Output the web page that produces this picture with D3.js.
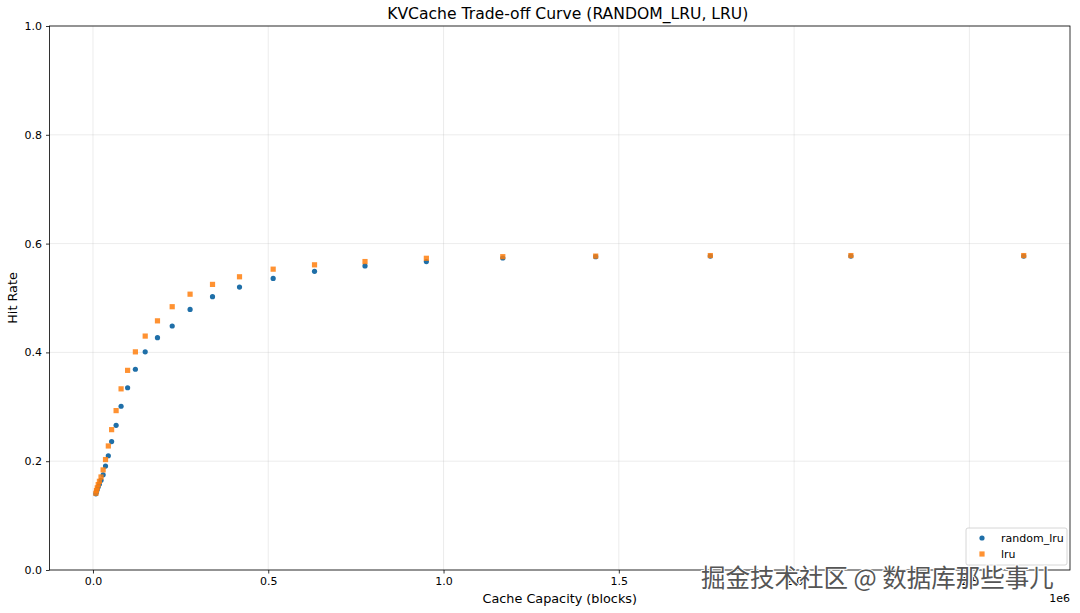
<!DOCTYPE html>
<meta charset="utf-8">
<script src="https://d3js.org/d3.v7.min.js"></script>
<style>
  body { margin: 0; background: #fff; }
  text { font-family: "DejaVu Sans", sans-serif; }
</style>
<div id="chart"></div>
<script>

// cache capacities (blocks)
var capacity = [8200, 10000, 12200, 15000, 18400, 23000, 29000, 35800, 43800, 53200,
  66000, 80200, 98800, 121000, 149000, 184000, 226000, 277000, 341000, 418000,
  514000, 632000, 776000, 951000, 1169000, 1434000, 1761000, 2162000, 2655000]

var randomLru = [0.140, 0.144, 0.148, 0.153, 0.158, 0.165, 0.175, 0.191, 0.210, 0.236,
  0.266, 0.301, 0.335, 0.369, 0.401, 0.427, 0.4485, 0.479, 0.5025, 0.520,
  0.536, 0.549, 0.559, 0.567, 0.5735, 0.576, 0.577, 0.577, 0.577]

var lru = [0.141, 0.146, 0.151, 0.157, 0.163, 0.171, 0.184, 0.203, 0.228, 0.258,
  0.293, 0.333, 0.367, 0.401, 0.430, 0.458, 0.484, 0.507, 0.525, 0.539,
  0.553, 0.561, 0.567, 0.573, 0.576, 0.577, 0.578, 0.578, 0.578]

var xTicks = [0, 500000, 1000000, 1500000, 2000000, 2500000]
var yTicks = [0, 0.2, 0.4, 0.6, 0.8, 1.0]

var W = 1080, H = 613
// plot box
var box = {left: 49.5, right: 1070, top: 26, bottom: 570}

var svg = d3.select("#chart").append("svg")
  .attr("width", W).attr("height", H)

var x = d3.scaleLinear().domain([-124000, 2787000]).range([box.left, box.right])
var y = d3.scaleLinear().domain([0, 1]).range([box.bottom, box.top])

// grid
svg.append("g").selectAll("line").data(xTicks).enter().append("line")
  .attr("x1", d => x(d)).attr("x2", d => x(d))
  .attr("y1", box.top).attr("y2", box.bottom)
  .attr("stroke", "#b0b0b0").attr("stroke-opacity", 0.3).attr("stroke-width", 0.8)
svg.append("g").selectAll("line").data(yTicks).enter().append("line")
  .attr("y1", d => y(d)).attr("y2", d => y(d))
  .attr("x1", box.left).attr("x2", box.right)
  .attr("stroke", "#b0b0b0").attr("stroke-opacity", 0.3).attr("stroke-width", 0.8)

// axes
var xAxis = svg.append("g")
  .attr("transform", "translate(0," + box.bottom + ")")
  .call(d3.axisBottom(x).tickValues(xTicks).tickSize(3.5).tickPadding(4)
    .tickFormat(d => (d / 1e6).toFixed(1)))
var yAxis = svg.append("g")
  .attr("transform", "translate(" + box.left + ",0)")
  .call(d3.axisLeft(y).tickValues(yTicks).tickSize(3.5).tickPadding(4)
    .tickFormat(d3.format(".1f")))
;[xAxis, yAxis].forEach(function(a) {
  a.select(".domain").remove()
  a.selectAll("text").attr("font-size", 11).attr("fill", "#000")
    .style("font-family", "DejaVu Sans, sans-serif")
  a.selectAll("line").attr("stroke", "#000").attr("stroke-width", 0.8)
})

// frame
svg.append("rect")
  .attr("x", box.left).attr("y", box.top)
  .attr("width", box.right - box.left).attr("height", box.bottom - box.top)
  .attr("fill", "none").attr("stroke", "#000").attr("stroke-width", 0.8)

var pts = capacity.map((c, i) => ({c: c, r: randomLru[i], l: lru[i]}))

// random_lru
svg.append("g").selectAll("circle").data(pts).enter().append("circle")
  .attr("cx", d => x(d.c)).attr("cy", d => y(d.r)).attr("r", 2.6)
  .attr("fill", "#1f6fa8")

// lru
svg.append("g").selectAll("rect").data(pts).enter().append("rect")
  .attr("x", d => x(d.c) - 2.6).attr("y", d => y(d.l) - 2.6)
  .attr("width", 5.2).attr("height", 5.2)
  .attr("fill", "#ff7f0e").attr("fill-opacity", 0.85)

// title and labels
svg.append("text").attr("x", (box.left + box.right) / 2 + 8).attr("y", 19)
  .attr("text-anchor", "middle").attr("font-size", 15.6)
  .text("KVCache Trade-off Curve (RANDOM_LRU, LRU)")
svg.append("text").attr("x", (box.left + box.right) / 2).attr("y", 603)
  .attr("text-anchor", "middle").attr("font-size", 12.8)
  .text("Cache Capacity (blocks)")
svg.append("text").attr("transform", "translate(17," + ((box.top + box.bottom) / 2) + ") rotate(-90)")
  .attr("text-anchor", "middle").attr("font-size", 12.8)
  .text("Hit Rate")
svg.append("text").attr("x", box.right).attr("y", 602)
  .attr("text-anchor", "end").attr("font-size", 11)
  .text("1e6")

// legend
var lg = svg.append("g").attr("transform", "translate(966,528)")
lg.append("rect").attr("width", 101).attr("height", 37).attr("rx", 2)
  .attr("fill", "#fff").attr("fill-opacity", 0.8)
  .attr("stroke", "#ccc").attr("stroke-width", 0.8)
lg.append("circle").attr("cx", 16).attr("cy", 10).attr("r", 2.6).attr("fill", "#1f6fa8")
lg.append("rect").attr("x", 13.4).attr("y", 23.4).attr("width", 5.2).attr("height", 5.2)
  .attr("fill", "#ff7f0e").attr("fill-opacity", 0.85)
lg.append("text").attr("x", 35).attr("y", 14).attr("font-size", 11).text("random_lru")
lg.append("text").attr("x", 35).attr("y", 30).attr("font-size", 11).text("lru")

// watermark
svg.append("text").attr("x", 701).attr("y", 587)
  .attr("font-size", 24.5).attr("fill", "#555")
  .attr("stroke", "#fff").attr("stroke-width", 2).attr("paint-order", "stroke")
  .style("font-family", "Noto Sans CJK SC, sans-serif")
  .text("掘金技术社区 @ 数据库那些事儿")

</script>
